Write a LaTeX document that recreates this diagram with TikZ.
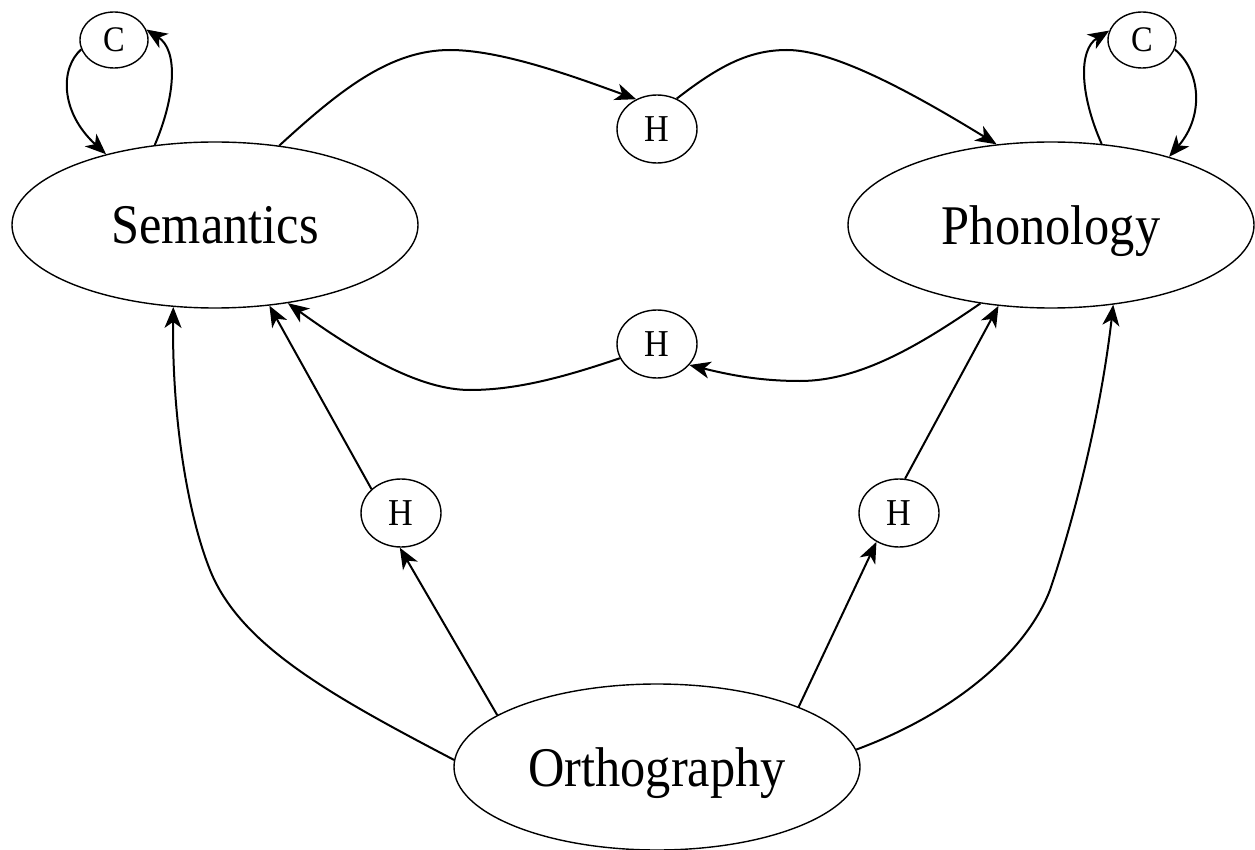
\documentclass[tikz,border=0pt]{standalone}
\usepackage{fontspec}
\setmainfont{Liberation Serif}
\usepackage{graphicx}
\usetikzlibrary{shapes.geometric,arrows.meta}
\newcommand{\cond}[1]{\scalebox{0.9}[1]{#1}}
\begin{document}
\begin{tikzpicture}[x=1pt,y=-1pt,
  bignode/.style={ellipse,draw,line width=1.4pt,minimum width=406pt,minimum height=166pt,inner sep=0pt,text depth=0pt,font=\fontsize{56}{60}\selectfont},
  hnode/.style={ellipse,draw,line width=1.4pt,minimum width=80pt,minimum height=68pt,inner sep=0pt,text depth=0pt,font=\fontsize{38}{40}\selectfont},
  cnode/.style={ellipse,draw,line width=1.4pt,minimum width=68pt,minimum height=56pt,inner sep=0pt,text depth=0pt,font=\fontsize{36}{38}\selectfont},
  edge/.style={line width=2pt,-{Stealth[length=21pt,width=17pt,inset=6pt]}}]
\useasboundingbox (0,0) rectangle (1255,850);
\node[bignode] (sem) at (215,225) {\cond{Semantics}};
\node[bignode] (pho) at (1051,225) {\cond{Phonology}};
\node[bignode] (ort) at (657,767) {\cond{Orthography}};
\node[cnode] (cl) at (114,40) {\cond{C}};
\node[cnode] (cr) at (1142,40) {\cond{C}};
\node[hnode] (ht) at (657,129) {\cond{H}};
\node[hnode] (hm) at (657,344) {\cond{H}};
\node[hnode] (hl) at (401,513) {\cond{H}};
\node[hnode] (hr) at (899,513) {\cond{H}};
% self loops via C
\draw[edge] (cl.196) .. controls (60,68) and (60,112) .. (sem.147);
\draw[edge] (sem.127) .. controls (176,95) and (178,50) .. (cl.18);
\draw[edge] (pho.58) .. controls (1080,95) and (1078,50) .. (cr.164);
\draw[edge] (cr.344) .. controls (1200,70) and (1205,115) .. (pho.30);
% top
\draw[edge] (sem.51) .. controls (340,90) and (390,50) .. (450,50) .. controls (500,50) and (570,75) .. (ht.125);
\draw[edge] (ht.57) .. controls (720,65) and (750,50) .. (787,50) .. controls (830,50) and (900,85) .. (pho.124);
% middle
\draw[edge] (pho.228) .. controls (920,345) and (860,381) .. (800,381) .. controls (760,381) and (730,375) .. (hm.327);
\draw[edge] (hm.201) .. controls (570,375) and (520,390) .. (470,390) .. controls (420,390) and (360,355) .. (sem.313);
% lower H
\draw[edge] (ort.162) -- (hl.268);
\draw[edge] (hl.141) -- (sem.304);
\draw[edge] (ort.23) -- (hr.232);
\draw[edge] (hr.80) -- (pho.237);
% outer
\draw[edge] (ort.178) .. controls (330,695) and (240,645) .. (210,570) .. controls (188,515) and (172,420) .. (sem.243);
\draw[edge] (ort.5) .. controls (950,715) and (1025,655) .. (1050,590) .. controls (1072,525) and (1100,420) .. (pho.308);
\end{tikzpicture}
\end{document}
